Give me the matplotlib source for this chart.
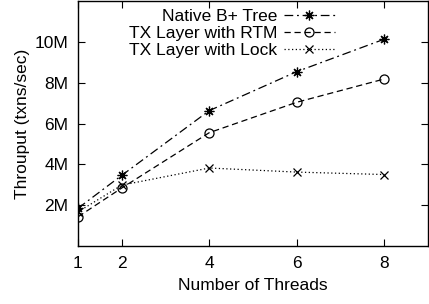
import matplotlib
matplotlib.use("Agg")
import matplotlib.pyplot as plt

plt.rcParams['font.family'] = ['Liberation Sans', 'DejaVu Sans']

# Daten
threads = [1, 2, 4, 6, 8]
native = [1.85, 3.46, 6.63, 8.54, 10.13]   # M txns/sec
rtm = [1.43, 2.84, 5.55, 7.04, 8.18]
lock = [1.67, 2.98, 3.82, 3.62, 3.50]
yticks = [2, 4, 6, 8, 10]
ytick_labels = ["2M", "4M", "6M", "8M", "10M"]

fig = plt.figure(figsize=(4.29, 3.04), dpi=100)
ax = fig.add_axes([78 / 429, 58 / 304, 350 / 429, 245 / 304])

ax.plot(threads, native, color="black", lw=0.9, linestyle=(0, (7, 3, 1.5, 3)),
        marker=(8, 2, 0), markersize=7, markeredgewidth=0.9, label="Native B+ Tree")
ax.plot(threads, rtm, color="black", lw=0.9, linestyle=(0, (5, 3)),
        marker="o", markersize=6.5, markerfacecolor="none", markeredgewidth=0.9,
        label="TX Layer with RTM")
ax.plot(threads, lock, color="black", lw=0.9, linestyle=(0, (1, 2)),
        marker="x", markersize=6, markeredgewidth=0.9, label="TX Layer with Lock")

ax.set_xlim(1, 9)
ax.set_ylim(0, 12)
ax.set_xticks(threads)
ax.set_yticks(yticks)
ax.set_yticklabels(ytick_labels)
ax.tick_params(direction="in", length=5, width=0.8, top=True, right=True,
               labelsize=12.5, pad=7)
for s in ax.spines.values():
    s.set_linewidth(1.0)

ax.set_xlabel("Number of Threads", fontsize=12.5, labelpad=5)
ax.set_ylabel("Throuput (txns/sec)", fontsize=12.5, labelpad=3)

ax.legend(loc="upper left", bbox_to_anchor=(0.111, 1.017), frameon=False,
          markerfirst=False, fontsize=12.5, handlelength=2.9, handletextpad=0.4,
          labelspacing=0.1, borderpad=0.2)

fig.savefig("out.png", dpi=100)
